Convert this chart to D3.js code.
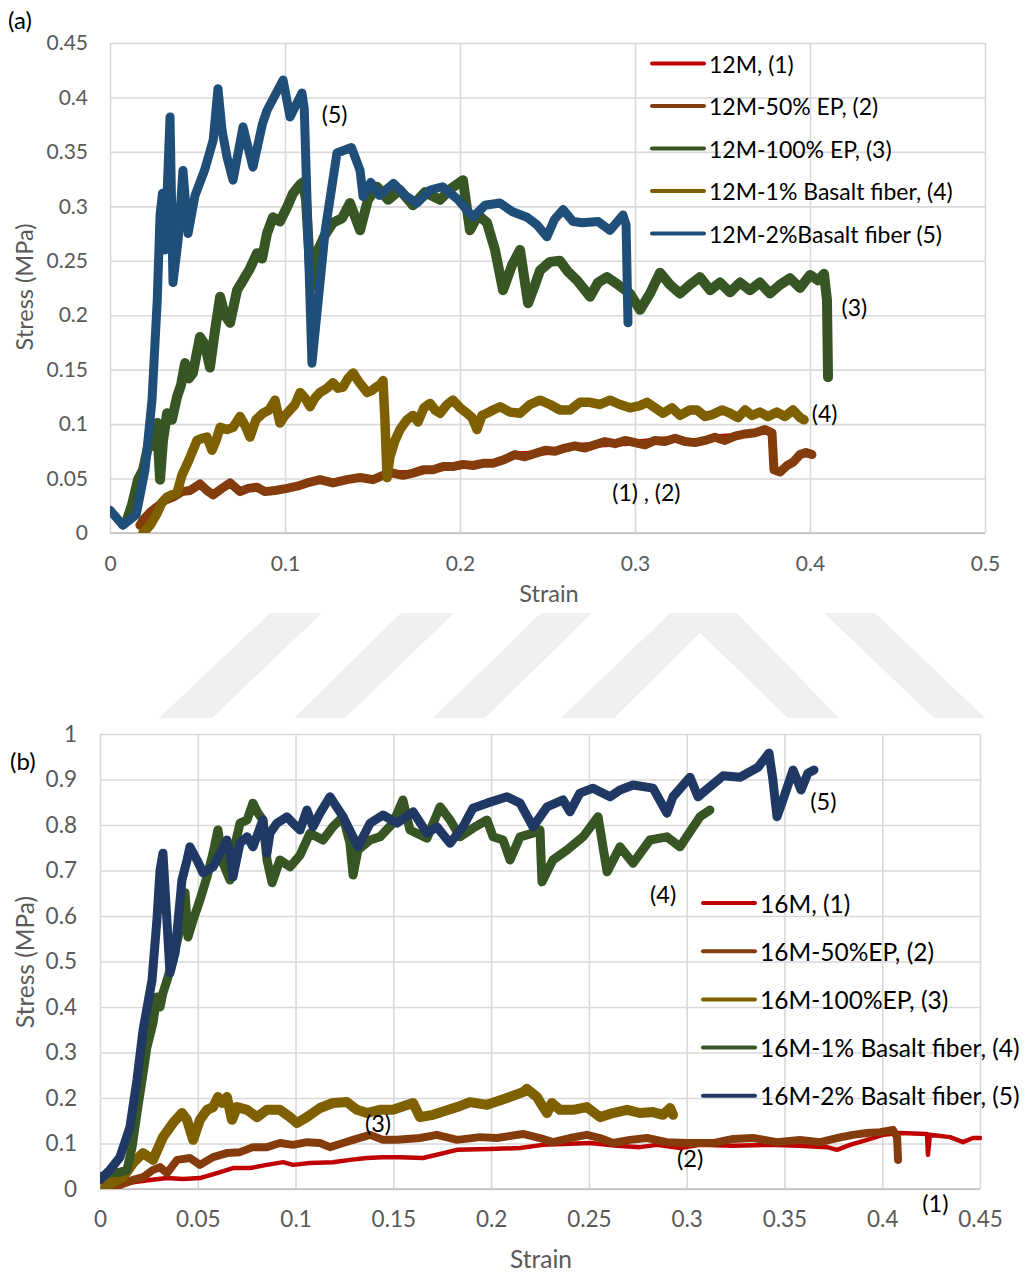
<!DOCTYPE html>
<html>
<head>
<meta charset="utf-8">
<script src="https://cdn.jsdelivr.net/npm/d3@7"></script>
<style>
  html, body { margin: 0; padding: 0; background: #fff; }
  svg { display: block; font-family: Lato, "Open Sans", sans-serif; }
</style>
</head>
<body>
<script>
// ---------- Panel (a): 12M mixes, [strain, stress (MPa)] ----------
const a12M = [[0.0171,0.007],[0.0189,0.012],[0.0229,0.019],[0.0269,0.024],[0.0314,0.03],[0.036,0.033],[0.0411,0.038],[0.0457,0.039],[0.0514,0.045],[0.0554,0.039],[0.0589,0.035],[0.064,0.041],[0.0686,0.046],[0.0743,0.038],[0.0789,0.041],[0.084,0.042],[0.0886,0.038],[0.0943,0.039],[0.1011,0.041],[0.1069,0.043],[0.1126,0.046],[0.12,0.049],[0.1274,0.046],[0.1354,0.049],[0.1429,0.051],[0.1503,0.049],[0.156,0.053],[0.1617,0.055],[0.1731,0.055],[0.1846,0.058],[0.196,0.061],[0.2074,0.062],[0.2189,0.064],[0.2314,0.072],[0.2429,0.073],[0.2543,0.075],[0.2657,0.08],[0.2771,0.081],[0.2886,0.082],[0.3,0.083],[0.3114,0.085],[0.3229,0.087],[0.3343,0.083],[0.3457,0.088],[0.3571,0.089],[0.3686,0.092],[0.3743,0.095],[0.3783,0.092]];
const a12M_50EP = [[0.0171,0.007],[0.0189,0.012],[0.0229,0.019],[0.0269,0.024],[0.0314,0.03],[0.036,0.033],[0.0411,0.038],[0.0457,0.039],[0.0514,0.045],[0.0554,0.039],[0.0589,0.035],[0.064,0.041],[0.0686,0.046],[0.0743,0.038],[0.0789,0.041],[0.084,0.042],[0.0886,0.038],[0.0943,0.039],[0.1011,0.041],[0.1069,0.043],[0.1126,0.046],[0.12,0.049],[0.1274,0.046],[0.1354,0.049],[0.1429,0.051],[0.1503,0.049],[0.156,0.053],[0.1617,0.055],[0.1674,0.053],[0.1731,0.055],[0.1789,0.058],[0.1846,0.058],[0.1903,0.061],[0.196,0.061],[0.2017,0.063],[0.2074,0.062],[0.2131,0.064],[0.2189,0.064],[0.2246,0.067],[0.2314,0.072],[0.2371,0.07],[0.2429,0.073],[0.2486,0.076],[0.2543,0.075],[0.26,0.078],[0.2657,0.08],[0.2714,0.078],[0.2771,0.081],[0.2829,0.084],[0.2886,0.082],[0.2943,0.085],[0.3,0.083],[0.3057,0.081],[0.3114,0.085],[0.3171,0.084],[0.3229,0.087],[0.3286,0.084],[0.3343,0.083],[0.34,0.085],[0.3457,0.088],[0.3514,0.085],[0.3571,0.089],[0.3629,0.091],[0.3686,0.092],[0.3743,0.095],[0.3783,0.092],[0.3794,0.058],[0.3829,0.056],[0.3869,0.062],[0.3903,0.065],[0.3943,0.072],[0.3977,0.074],[0.4011,0.072]];
const a12M_100EP = [[0.0097,0.012],[0.0126,0.026],[0.016,0.049],[0.0189,0.058],[0.0217,0.079],[0.0246,0.081],[0.0269,0.101],[0.0286,0.049],[0.0303,0.085],[0.0326,0.11],[0.0354,0.104],[0.0383,0.125],[0.0406,0.136],[0.0429,0.156],[0.0451,0.142],[0.0474,0.147],[0.0514,0.18],[0.0543,0.173],[0.0571,0.152],[0.06,0.186],[0.0629,0.217],[0.0657,0.2],[0.0686,0.193],[0.0726,0.223],[0.076,0.232],[0.08,0.243],[0.084,0.257],[0.0869,0.252],[0.0897,0.275],[0.0931,0.29],[0.0971,0.286],[0.1011,0.299],[0.1046,0.312],[0.1086,0.32],[0.1103,0.322],[0.112,0.306],[0.1149,0.226],[0.1189,0.26],[0.1229,0.274],[0.1274,0.285],[0.1326,0.289],[0.1371,0.303],[0.1429,0.278],[0.1474,0.306],[0.1526,0.318],[0.1589,0.306],[0.1657,0.315],[0.1731,0.301],[0.18,0.313],[0.1886,0.306],[0.1954,0.317],[0.2017,0.324],[0.2057,0.278],[0.2103,0.292],[0.2154,0.285],[0.22,0.26],[0.2246,0.223],[0.2297,0.246],[0.2343,0.26],[0.2389,0.211],[0.2429,0.228],[0.2457,0.241],[0.2514,0.249],[0.2571,0.25],[0.2617,0.24],[0.2669,0.232],[0.2743,0.217],[0.2789,0.23],[0.284,0.235],[0.2903,0.228],[0.2971,0.22],[0.3029,0.205],[0.3086,0.22],[0.3143,0.239],[0.32,0.228],[0.3257,0.22],[0.3314,0.228],[0.3371,0.235],[0.3429,0.223],[0.3486,0.23],[0.3543,0.221],[0.36,0.23],[0.3657,0.223],[0.3714,0.23],[0.3771,0.22],[0.3829,0.228],[0.3886,0.234],[0.3943,0.225],[0.4,0.237],[0.4046,0.232],[0.408,0.238],[0.4097,0.214],[0.4103,0.143]];
const a12M_1BF = [[0.0189,0],[0.0229,0.007],[0.0269,0.018],[0.0297,0.028],[0.0326,0.033],[0.0354,0.035],[0.0383,0.037],[0.0411,0.053],[0.0451,0.067],[0.0469,0.074],[0.0497,0.085],[0.0526,0.087],[0.0554,0.088],[0.0583,0.076],[0.0606,0.085],[0.0629,0.097],[0.0669,0.095],[0.0703,0.097],[0.0743,0.107],[0.0771,0.099],[0.08,0.088],[0.0834,0.104],[0.0874,0.11],[0.0909,0.113],[0.0943,0.122],[0.0971,0.101],[0.1,0.108],[0.1029,0.113],[0.1057,0.118],[0.1086,0.129],[0.1114,0.124],[0.1143,0.116],[0.1171,0.124],[0.12,0.129],[0.124,0.133],[0.1274,0.138],[0.1303,0.133],[0.1331,0.134],[0.136,0.142],[0.1389,0.147],[0.1417,0.14],[0.1446,0.134],[0.1469,0.129],[0.1497,0.131],[0.152,0.134],[0.1543,0.136],[0.156,0.14],[0.1571,0.104],[0.1583,0.051],[0.16,0.07],[0.1629,0.085],[0.1657,0.095],[0.1697,0.104],[0.1731,0.108],[0.176,0.102],[0.1794,0.115],[0.1829,0.119],[0.1857,0.113],[0.1886,0.11],[0.1926,0.118],[0.196,0.122],[0.2,0.115],[0.204,0.11],[0.2069,0.106],[0.2097,0.095],[0.2126,0.108],[0.2154,0.11],[0.2189,0.113],[0.2229,0.116],[0.2286,0.111],[0.2343,0.11],[0.24,0.118],[0.2457,0.122],[0.2514,0.118],[0.2571,0.113],[0.2629,0.113],[0.2686,0.12],[0.2743,0.12],[0.28,0.118],[0.2857,0.122],[0.2914,0.118],[0.2971,0.115],[0.3029,0.117],[0.3069,0.12],[0.3114,0.115],[0.316,0.11],[0.3211,0.115],[0.3257,0.108],[0.3314,0.113],[0.3354,0.113],[0.34,0.107],[0.3446,0.109],[0.3497,0.113],[0.3543,0.11],[0.3589,0.106],[0.3629,0.113],[0.3669,0.108],[0.3714,0.111],[0.376,0.107],[0.3811,0.111],[0.3857,0.107],[0.3903,0.113],[0.3943,0.106],[0.3966,0.104]];
const a12M_2BF = [[0,0.021],[0.0074,0.007],[0.015,0.017],[0.02,0.058],[0.024,0.122],[0.027,0.214],[0.0286,0.292],[0.03,0.312],[0.0314,0.26],[0.0343,0.382],[0.036,0.23],[0.039,0.27],[0.0417,0.333],[0.0446,0.275],[0.0486,0.31],[0.054,0.333],[0.059,0.361],[0.0617,0.408],[0.064,0.37],[0.0669,0.345],[0.0703,0.324],[0.076,0.373],[0.0817,0.336],[0.087,0.375],[0.0897,0.388],[0.0989,0.416],[0.1029,0.382],[0.1097,0.404],[0.111,0.39],[0.1143,0.214],[0.1154,0.156],[0.119,0.214],[0.123,0.278],[0.1297,0.349],[0.138,0.354],[0.1429,0.333],[0.1446,0.309],[0.149,0.322],[0.154,0.31],[0.162,0.321],[0.1686,0.31],[0.1754,0.303],[0.183,0.315],[0.19,0.318],[0.199,0.306],[0.2074,0.29],[0.2143,0.301],[0.2229,0.303],[0.23,0.295],[0.2383,0.29],[0.244,0.283],[0.2497,0.272],[0.254,0.288],[0.2589,0.297],[0.2646,0.286],[0.27,0.285],[0.279,0.286],[0.2857,0.278],[0.2931,0.292],[0.2949,0.283],[0.296,0.193]];

const aNames = ["12M, (1)", "12M-50% EP, (2)", "12M-100% EP, (3)", "12M-1% Basalt fiber, (4)", "12M-2%Basalt fiber (5)"];
const aXTicks = [0, 0.1, 0.2, 0.3, 0.4, 0.5];
const aXTickLabels = ["0", "0.1", "0.2", "0.3", "0.4", "0.5"];
const aYTicks = [0, 0.05, 0.1, 0.15, 0.2, 0.25, 0.3, 0.35, 0.4, 0.45];
const aYTickLabels = ["0", "0.05", "0.1", "0.15", "0.2", "0.25", "0.3", "0.35", "0.4", "0.45"];
// curve tags: [text, strain, stress]
const aTags = [["(5)", 0.121, 0.385], ["(3)", 0.418, 0.208], ["(4)", 0.401, 0.110], ["(1) , (2)", 0.287, 0.038]];

// ---------- Panel (b): 16M mixes, [strain, stress (MPa)] ----------
const b16M = [[0.0051,0],[0.0169,0.015],[0.0256,0.02],[0.0343,0.024],[0.0424,0.022],[0.0511,0.024],[0.0598,0.035],[0.068,0.046],[0.0767,0.046],[0.0854,0.053],[0.0936,0.059],[0.0987,0.053],[0.1074,0.057],[0.1191,0.059],[0.1278,0.064],[0.1365,0.068],[0.1447,0.07],[0.1534,0.07],[0.1652,0.068],[0.1826,0.086],[0.1994,0.088],[0.2148,0.09],[0.2265,0.097],[0.2506,0.101],[0.2644,0.095],[0.2761,0.092],[0.2848,0.097],[0.2966,0.09],[0.3068,0.097],[0.3237,0.095],[0.3411,0.097],[0.3579,0.095],[0.3718,0.092],[0.3769,0.086],[0.3835,0.097],[0.3922,0.108],[0.4004,0.119],[0.4091,0.123],[0.4229,0.121],[0.4234,0.075],[0.4244,0.119],[0.4347,0.114],[0.4413,0.103],[0.4464,0.112],[0.45,0.112]];
const b16M_50EP = [[0.0051,0],[0.0102,0.009],[0.0169,0.02],[0.022,0.026],[0.0271,0.042],[0.0307,0.048],[0.0343,0.035],[0.0394,0.064],[0.046,0.068],[0.0511,0.053],[0.0578,0.07],[0.0649,0.079],[0.0716,0.081],[0.0782,0.092],[0.0854,0.092],[0.092,0.101],[0.0987,0.097],[0.1058,0.103],[0.1125,0.101],[0.1176,0.092],[0.1243,0.101],[0.1294,0.108],[0.1381,0.119],[0.1447,0.108],[0.1519,0.108],[0.1636,0.112],[0.1723,0.119],[0.1826,0.108],[0.1943,0.114],[0.203,0.112],[0.2163,0.121],[0.225,0.112],[0.2316,0.103],[0.2403,0.112],[0.249,0.119],[0.2557,0.112],[0.2623,0.101],[0.271,0.108],[0.2797,0.112],[0.2899,0.103],[0.3002,0.101],[0.3135,0.101],[0.3237,0.11],[0.3339,0.112],[0.3462,0.103],[0.3579,0.108],[0.3682,0.103],[0.3769,0.112],[0.385,0.119],[0.3922,0.123],[0.3989,0.125],[0.4055,0.13],[0.4076,0.114],[0.4081,0.064]];
const b16M_100EP = [[0.0026,0.004],[0.0051,0.013],[0.0118,0.026],[0.0169,0.057],[0.022,0.079],[0.0271,0.064],[0.0322,0.114],[0.0373,0.145],[0.0419,0.167],[0.0445,0.152],[0.0476,0.108],[0.0511,0.152],[0.0547,0.174],[0.0578,0.18],[0.0603,0.202],[0.0624,0.189],[0.0649,0.202],[0.0675,0.152],[0.0701,0.18],[0.0752,0.174],[0.0803,0.158],[0.0854,0.174],[0.092,0.174],[0.0972,0.158],[0.1007,0.145],[0.1058,0.158],[0.1125,0.178],[0.1191,0.189],[0.1263,0.191],[0.1314,0.174],[0.1365,0.167],[0.1432,0.174],[0.1498,0.174],[0.1601,0.189],[0.1636,0.158],[0.1703,0.163],[0.1826,0.18],[0.1892,0.191],[0.1979,0.185],[0.2081,0.2],[0.2163,0.213],[0.2183,0.22],[0.2235,0.202],[0.225,0.191],[0.2286,0.167],[0.2311,0.189],[0.2352,0.174],[0.2419,0.174],[0.249,0.18],[0.2557,0.158],[0.2623,0.167],[0.2695,0.174],[0.2761,0.167],[0.2828,0.169],[0.2879,0.163],[0.2915,0.178],[0.293,0.163]];
const b16M_1BF = [[0,0.026],[0.0051,0.035],[0.0102,0.037],[0.0138,0.042],[0.0164,0.092],[0.0189,0.167],[0.0215,0.24],[0.024,0.312],[0.0271,0.365],[0.0291,0.422],[0.0307,0.4],[0.0322,0.431],[0.0343,0.459],[0.0373,0.503],[0.0419,0.591],[0.0435,0.651],[0.045,0.554],[0.0476,0.591],[0.0511,0.635],[0.0547,0.686],[0.0578,0.738],[0.0603,0.789],[0.0629,0.716],[0.0665,0.679],[0.068,0.738],[0.0716,0.804],[0.0752,0.811],[0.0782,0.848],[0.0808,0.826],[0.0833,0.811],[0.0854,0.723],[0.088,0.673],[0.092,0.723],[0.0972,0.708],[0.1023,0.734],[0.1074,0.782],[0.114,0.767],[0.1191,0.796],[0.1243,0.818],[0.1278,0.76],[0.1294,0.69],[0.1319,0.745],[0.1381,0.767],[0.1432,0.774],[0.1498,0.804],[0.1549,0.855],[0.1585,0.789],[0.1672,0.771],[0.1739,0.84],[0.179,0.811],[0.1841,0.774],[0.1907,0.793],[0.1979,0.811],[0.201,0.774],[0.2061,0.767],[0.2097,0.723],[0.2148,0.774],[0.2214,0.782],[0.225,0.789],[0.226,0.675],[0.2316,0.723],[0.2388,0.745],[0.247,0.774],[0.2547,0.818],[0.2593,0.697],[0.2659,0.752],[0.2726,0.716],[0.2812,0.767],[0.2899,0.774],[0.2966,0.752],[0.3068,0.818],[0.3119,0.833]];
const b16M_2BF = [[0,0.02],[0.0051,0.042],[0.0102,0.07],[0.0153,0.136],[0.0189,0.24],[0.022,0.349],[0.0266,0.459],[0.0291,0.591],[0.0307,0.701],[0.0322,0.738],[0.0332,0.664],[0.0358,0.475],[0.0384,0.519],[0.0419,0.679],[0.0445,0.723],[0.046,0.752],[0.0496,0.723],[0.0527,0.695],[0.0578,0.708],[0.0614,0.738],[0.0649,0.767],[0.0665,0.738],[0.068,0.686],[0.0716,0.76],[0.0752,0.774],[0.0782,0.752],[0.0833,0.811],[0.0854,0.738],[0.0869,0.782],[0.0905,0.804],[0.0956,0.818],[0.0987,0.804],[0.1023,0.789],[0.1058,0.833],[0.1089,0.796],[0.1125,0.826],[0.1176,0.862],[0.1243,0.818],[0.1319,0.752],[0.1381,0.804],[0.1447,0.822],[0.1519,0.804],[0.1601,0.829],[0.1672,0.782],[0.1723,0.796],[0.179,0.76],[0.1856,0.796],[0.1907,0.837],[0.1979,0.848],[0.2081,0.862],[0.2148,0.848],[0.2214,0.796],[0.2286,0.84],[0.2368,0.855],[0.2403,0.829],[0.2454,0.87],[0.2521,0.881],[0.2608,0.862],[0.2659,0.877],[0.2726,0.888],[0.2828,0.881],[0.2899,0.826],[0.293,0.862],[0.3017,0.905],[0.3058,0.862],[0.3119,0.884],[0.3186,0.908],[0.3273,0.905],[0.3365,0.927],[0.3421,0.958],[0.3441,0.899],[0.3462,0.818],[0.3498,0.862],[0.3544,0.921],[0.3585,0.877],[0.362,0.914],[0.3651,0.921]];

const bNames = ["16M, (1)", "16M-50%EP, (2)", "16M-100%EP, (3)", "16M-1% Basalt fiber, (4)", "16M-2% Basalt fiber, (5)"];
const bXTicks = [0, 0.05, 0.1, 0.15, 0.2, 0.25, 0.3, 0.35, 0.4, 0.45];
const bXTickLabels = ["0", "0.05", "0.1", "0.15", "0.2", "0.25", "0.3", "0.35", "0.4", "0.45"];
const bYTicks = [0, 0.1, 0.2, 0.3, 0.4, 0.5, 0.6, 0.7, 0.8, 0.9, 1];
const bYTickLabels = ["0", "0.1", "0.2", "0.3", "0.4", "0.5", "0.6", "0.7", "0.8", "0.9", "1"];
const bTags = [["(5)", 0.3632, 0.853], ["(4)", 0.2813, 0.648], ["(3)", 0.1355, 0.145], ["(2)", 0.2951, 0.068], ["(1)", 0.4205, -0.031]];

// ---------- drawing ----------
const W = 1026, H = 1274;
const svg = d3.select("body").append("svg").attr("width", W).attr("height", H);
svg.append("rect").attr("width", W).attr("height", H).attr("fill", "#fff");

// faint background emblem between the panels
const emblem = [
  [[159,718],[212,718],[322,613],[270,613]],
  [[294,718],[345,718],[454,613],[401,613]],
  [[433,718],[485,718],[592,613],[541,613]],
  [[561,718],[670,613],[737,613],[839,718],[788,718],[700,633],[614,718]],
  [[824,613],[875,613],[985,718],[934,718]]
];
svg.append("g").selectAll("path").data(emblem).join("path")
  .attr("d", d => "M" + d.join("L") + "Z")
  .attr("fill", "#f0f0f0");

function panel(cfg) {
  const g = svg.append("g");
  const x = d3.scaleLinear().domain(cfg.xDomain).range(cfg.xRange);
  const y = d3.scaleLinear().domain(cfg.yDomain).range(cfg.yRange);
  const [x0, x1] = cfg.xRange, [y0, y1] = cfg.yRange;

  // horizontal grid + y labels
  const yAxis = g.append("g").attr("transform", `translate(${x0},0)`)
    .call(d3.axisLeft(y).tickValues(cfg.yTicks).tickSize(-(x1 - x0))
      .tickPadding(cfg.yPad).tickFormat((d, i) => cfg.yLabels[i]));
  // vertical grid + x labels
  const xAxis = g.append("g").attr("transform", `translate(0,${y0})`)
    .call(d3.axisBottom(x).tickValues(cfg.xTicks).tickSize(-(y0 - y1))
      .tickPadding(cfg.xPad).tickFormat((d, i) => cfg.xLabels[i]));
  [yAxis, xAxis].forEach(a => {
    a.select(".domain").remove();
    a.selectAll(".tick line").attr("stroke", "#d9d9d9").attr("stroke-width", 1.6);
    a.selectAll(".tick text").attr("fill", "#595959")
      .attr("font-size", cfg.tickFont).attr("font-family", "Lato, 'Open Sans', sans-serif");
  });
  g.append("line").attr("x1", x0).attr("x2", x1).attr("y1", y0).attr("y2", y0)
    .attr("stroke", "#c9c9c9").attr("stroke-width", 1.8);

  // series
  const clipId = "clip" + cfg.id;
  svg.append("clipPath").attr("id", clipId).append("rect")
    .attr("x", x0).attr("y", y1 - 6).attr("width", x1 - x0 + 2).attr("height", y0 - y1 + 6);
  const line = d3.line().x(d => x(d[0])).y(d => y(d[1]));
  g.append("g").attr("clip-path", `url(#${clipId})`)
    .selectAll("path").data(cfg.series).join("path")
    .attr("d", s => line(s.values))
    .attr("fill", "none")
    .attr("stroke", s => s.color)
    .attr("stroke-width", s => s.width)
    .attr("stroke-linejoin", "round")
    .attr("stroke-linecap", "round");

  // axis titles
  g.append("text").attr("x", cfg.xTitle[0]).attr("y", cfg.xTitle[1])
    .attr("text-anchor", "middle").attr("dominant-baseline", "central")
    .attr("fill", "#595959").attr("font-size", cfg.titleFont)
    .text("Strain");
  g.append("text").attr("transform", `translate(${cfg.yTitle[0]},${cfg.yTitle[1]}) rotate(-90)`)
    .attr("text-anchor", "middle").attr("dominant-baseline", "central")
    .attr("fill", "#595959").attr("font-size", cfg.titleFont)
    .text("Stress (MPa)");

  // legend
  const lg = g.append("g");
  cfg.series.forEach((s, i) => {
    const yy = cfg.legend.y + i * cfg.legend.dy;
    lg.append("line").attr("x1", cfg.legend.x).attr("x2", cfg.legend.x + cfg.legend.len)
      .attr("y1", yy).attr("y2", yy).attr("stroke", s.color).attr("stroke-width", 4)
      .attr("stroke-linecap", "round");
    lg.append("text").attr("x", cfg.legend.x + cfg.legend.len + cfg.legend.gap).attr("y", yy)
      .attr("dominant-baseline", "central").attr("fill", "#000").attr("font-size", cfg.legend.font)
      .text(cfg.names[i]);
  });

  // curve tags
  g.append("g").selectAll("text").data(cfg.tags).join("text")
    .attr("x", d => x(d[1])).attr("y", d => y(d[2]))
    .attr("dominant-baseline", "central").attr("fill", "#000").attr("font-size", cfg.tagFont)
    .text(d => d[0]);

  // panel letter
  g.append("text").attr("x", cfg.letter[1]).attr("y", cfg.letter[2])
    .attr("dominant-baseline", "central").attr("fill", "#000").attr("font-size", 24)
    .text(cfg.letter[0]);
}

panel({
  id: "a",
  xDomain: [0, 0.5], xRange: [110, 985],
  yDomain: [0, 0.45], yRange: [533, 43],
  xTicks: aXTicks, xLabels: aXTickLabels, yTicks: aYTicks, yLabels: aYTickLabels,
  xPad: 23, yPad: 22, tickFont: 21, titleFont: 23.5,
  xTitle: [549, 593], yTitle: [24, 287],
  series: [
    { values: a12M, color: "#c00000", width: 6 },
    { values: a12M_50EP, color: "#843c0c", width: 9 },
    { values: a12M_100EP, color: "#375623", width: 10 },
    { values: a12M_1BF, color: "#7f6000", width: 9.5 },
    { values: a12M_2BF, color: "#1f4e79", width: 9 }
  ],
  names: aNames,
  legend: { x: 652, y: 63.5, dy: 42.5, len: 52, gap: 5, font: 23 },
  tags: aTags, tagFont: 23,
  letter: ["(a)", 8, 19]
});

panel({
  id: "b",
  xDomain: [0, 0.45], xRange: [100, 980],
  yDomain: [0, 1], yRange: [1189, 734],
  xTicks: bXTicks, xLabels: bXTickLabels, yTicks: bYTicks, yLabels: bYTickLabels,
  xPad: 22, yPad: 23, tickFont: 22.5, titleFont: 24.5,
  xTitle: [541, 1258], yTitle: [24, 962],
  series: [
    { values: b16M, color: "#c00000", width: 4.5 },
    { values: b16M_50EP, color: "#843c0c", width: 8 },
    { values: b16M_100EP, color: "#7f6000", width: 10 },
    { values: b16M_1BF, color: "#375623", width: 9 },
    { values: b16M_2BF, color: "#203864", width: 9 }
  ],
  names: bNames,
  legend: { x: 703, y: 903, dy: 48.2, len: 52, gap: 5, font: 24.5 },
  tags: bTags, tagFont: 23.5,
  letter: ["(b)", 10, 760]
});
</script>
</body>
</html>
